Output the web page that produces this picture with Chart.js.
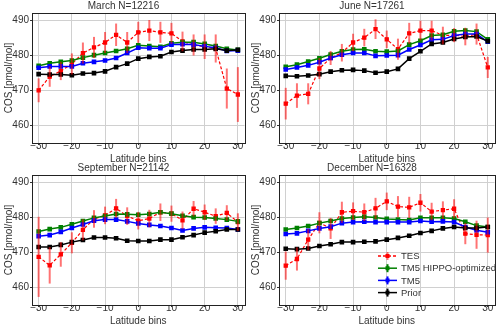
<!DOCTYPE html>
<html>
<head>
<meta charset="utf-8">
<script src="https://cdn.jsdelivr.net/npm/chart.js@4.4.0/dist/chart.umd.min.js"></script>
<style>
body{margin:0;background:#fff;width:500px;height:329px;position:relative;overflow:hidden}
canvas{position:absolute}
</style>
</head>
<body>
<canvas id="c0" width="250" height="165" style="left:0;top:0"></canvas>
<canvas id="c1" width="253" height="165" style="left:247px;top:0"></canvas>
<canvas id="c2" width="250" height="165" style="left:0;top:162px"></canvas>
<canvas id="c3" width="253" height="165" style="left:247px;top:162px"></canvas>
<script>
// latitude bin centres and axis ticks
var latBins = [-30, -26.67, -23.33, -20, -16.67, -13.33, -10, -6.67, -3.33, 0, 3.33, 6.67, 10, 13.33, 16.67, 20, 23.33, 26.67, 30];
var xTicks = [-30, -20, -10, 0, 10, 20, 30];
var yTicks = [460, 470, 480, 490];
var seriesNames = ["TES", "TM5 HIPPO-optimized", "TM5", "Prior"];

// March
var marTes    = [470.0, 473.9, 475.5, 477.5, 480.6, 482.2, 483.6, 485.8, 483.6, 486.5, 487.0, 486.5, 486.2, 483.9, 482.9, 482.4, 481.9, 470.5, 468.8];
var marTesErr = [3.4, 2.9, 2.6, 3.0, 3.0, 3.0, 3.0, 3.2, 3.0, 3.0, 3.0, 3.0, 3.0, 2.8, 3.0, 3.5, 4.0, 5.7, 7.8];
var marHippo  = [477.0, 477.7, 478.1, 478.5, 479.3, 480.0, 480.6, 481.2, 481.8, 482.8, 482.6, 482.4, 483.4, 483.7, 483.7, 483.2, 482.6, 481.8, 481.5];
var marTm5    = [476.4, 476.8, 476.8, 476.8, 477.7, 478.1, 478.5, 479.2, 480.6, 482.1, 482.0, 482.0, 483.0, 483.1, 483.0, 482.5, 482.1, 481.2, 481.3];
var marPrior  = [474.6, 474.5, 474.5, 474.3, 474.8, 474.9, 475.4, 476.6, 477.6, 479.0, 479.5, 479.7, 480.9, 481.3, 481.6, 481.6, 481.8, 481.3, 481.5];

// June
var junTes    = [466.2, 468.5, 469.0, 476.2, 479.2, 480.7, 483.6, 485.0, 487.4, 484.5, 481.7, 486.2, 487.0, 487.0, 485.6, 485.7, 485.3, 486.0, 476.5];
var junTesErr = [4.5, 3.5, 3.0, 3.0, 2.0, 2.5, 2.5, 2.5, 2.8, 2.5, 3.0, 3.0, 2.8, 2.8, 2.5, 2.0, 2.5, 3.0, 3.0];
var junHippo  = [476.7, 477.3, 478.2, 479.1, 480.2, 481.1, 481.6, 481.7, 481.1, 481.0, 481.2, 483.0, 484.1, 485.6, 485.8, 486.8, 487.0, 486.7, 484.5];
var junTm5    = [475.9, 476.5, 477.1, 478.0, 479.2, 480.1, 480.6, 480.6, 479.8, 479.9, 480.0, 481.6, 482.9, 484.4, 484.5, 485.6, 486.0, 486.0, 483.8];
var junPrior  = [474.1, 474.0, 474.2, 474.6, 475.3, 475.7, 475.8, 475.6, 475.0, 475.3, 476.1, 479.0, 481.1, 483.2, 483.6, 484.6, 485.2, 485.3, 484.0];

// September
var sepTes    = [468.7, 466.3, 469.4, 472.7, 476.4, 479.5, 480.5, 482.5, 480.3, 479.0, 479.6, 481.4, 481.0, 479.1, 482.4, 481.4, 480.3, 481.2, 478.6];
var sepTesErr = [11.4, 5.2, 3.5, 3.0, 3.0, 2.5, 2.5, 2.7, 2.5, 2.5, 2.5, 2.5, 2.3, 2.5, 2.2, 2.2, 2.2, 2.2, 2.5];
var sepHippo  = [475.9, 476.6, 477.1, 478.0, 478.9, 479.8, 480.3, 480.9, 480.8, 480.7, 480.9, 481.4, 481.0, 480.4, 480.0, 479.9, 479.6, 479.3, 478.8];
var sepTm5    = [474.6, 474.9, 475.8, 476.9, 477.9, 479.0, 479.3, 479.3, 478.8, 478.2, 477.8, 477.5, 476.9, 476.2, 476.8, 477.1, 477.0, 476.9, 476.5];
var sepPrior  = [471.5, 471.5, 472.1, 472.9, 473.5, 474.2, 474.2, 474.0, 473.3, 473.2, 473.2, 473.6, 473.6, 474.3, 474.9, 475.6, 476.0, 476.5, 476.5];

// December
var decTes    = [466.2, 468.1, 473.6, 478.4, 476.8, 481.4, 481.7, 481.4, 482.5, 484.5, 483.0, 482.8, 484.1, 481.6, 482.0, 482.4, 475.3, 475.0, 474.9];
var decTesErr = [4.0, 3.3, 3.0, 3.0, 3.0, 3.0, 2.5, 2.5, 3.0, 2.5, 3.0, 3.0, 2.5, 2.5, 2.5, 2.7, 3.0, 4.0, 5.0];
var decHippo  = [476.5, 476.9, 477.5, 478.3, 478.9, 479.6, 479.9, 480.1, 479.9, 479.5, 479.3, 479.2, 479.8, 479.8, 479.8, 479.6, 478.7, 477.6, 477.2];
var decTm5    = [475.2, 475.4, 476.1, 476.8, 477.3, 478.3, 478.6, 478.7, 478.6, 478.6, 478.6, 478.6, 478.9, 478.7, 478.8, 478.6, 477.2, 476.3, 475.7];
var decPrior  = [471.0, 470.9, 471.1, 471.8, 472.3, 472.9, 472.9, 473.0, 473.1, 473.6, 474.1, 474.7, 475.5, 476.1, 476.8, 477.2, 476.9, 476.9, 477.2];

var FONT = "'Liberation Sans', Arial, sans-serif";
var TXT = "#333";

function pts(vals) {
	var out = [];
	for (var i in latBins) out.push({x: latBins[i], y: vals[i]});
	return out;
}

// vertical error bars for datasets that carry an errs array
var errorBars = {
	id: "errorBars",
	afterDatasetsDraw: function(chart) {
		var ctx = chart.ctx, xs = chart.scales.x, ys = chart.scales.y;
		chart.data.datasets.forEach(function(ds) {
			if (!ds.errs) return;
			ctx.save();
			ctx.strokeStyle = ds.errColor;
			ctx.lineWidth = 2;
			ds.data.forEach(function(p, i) {
				var x = xs.getPixelForValue(p.x);
				ctx.beginPath();
				ctx.moveTo(x, ys.getPixelForValue(p.y - ds.errs[i]));
				ctx.lineTo(x, ys.getPixelForValue(p.y + ds.errs[i]));
				ctx.stroke();
			});
			ctx.restore();
		});
	}
};

// box round the plot area
var frame = {
	id: "frame",
	afterDraw: function(chart) {
		var a = chart.chartArea, ctx = chart.ctx;
		ctx.save();
		ctx.strokeStyle = "#222";
		ctx.lineWidth = 1;
		ctx.strokeRect(Math.round(a.left) + 0.5, Math.round(a.top) + 0.5, Math.round(a.right - a.left), Math.round(a.bottom - a.top));
		ctx.restore();
	}
};

// legend drawn inside the December panel
var innerLegend = {
	id: "innerLegend",
	afterDraw: function(chart) {
		if (!chart.options.plugins.innerLegend.show) return;
		var ctx = chart.ctx;
		var x0 = 131, x1 = 150, y = 94, gap = 12.2;
		ctx.save();
		ctx.font = "9.5px " + FONT;
		ctx.textBaseline = "middle";
		chart.data.datasets.slice().reverse().forEach(function(ds) {
			ctx.strokeStyle = ds.borderColor;
			ctx.lineWidth = 1.5;
			ctx.setLineDash(ds.borderDash || []);
			ctx.beginPath(); ctx.moveTo(x0, y); ctx.lineTo(x1, y); ctx.stroke();
			ctx.setLineDash([]);
			ctx.strokeStyle = ds.errColor || ds.borderColor;
			ctx.lineWidth = 2;
			ctx.beginPath(); ctx.moveTo((x0 + x1) / 2, y - 4); ctx.lineTo((x0 + x1) / 2, y + 4); ctx.stroke();
			ctx.fillStyle = ds.borderColor;
			ctx.fillRect((x0 + x1) / 2 - 2, y - 2, 4, 4);
			ctx.fillStyle = TXT;
			ctx.fillText(ds.label, x1 + 4, y + 0.5);
			y += gap;
		});
		ctx.restore();
	}
};

function makePanel(id, title, tes, tesErr, hippo, tm5, prior, padRight, showLegend) {
	var ctx = document.getElementById(id);
	return new Chart(ctx, {
		type: "line",
		data: {
			datasets: [
				{label: seriesNames[3], data: pts(prior), borderColor: "#000", backgroundColor: "#000", borderWidth: 1.5, pointStyle: "rect", pointRadius: 2.2},
				{label: seriesNames[2], data: pts(tm5), borderColor: "#0000ff", backgroundColor: "#0000ff", borderWidth: 1.5, pointStyle: "rect", pointRadius: 2.2},
				{label: seriesNames[1], data: pts(hippo), borderColor: "#008000", backgroundColor: "#008000", borderWidth: 1.5, pointStyle: "rect", pointRadius: 2.2},
				{label: seriesNames[0], data: pts(tes), errs: tesErr, errColor: "rgba(255,0,0,0.55)", borderColor: "#ff0000", backgroundColor: "#ff0000", borderWidth: 1.2, borderDash: [3, 2], pointStyle: "rect", pointRadius: 2.2}
			]
		},
		options: {
			responsive: false,
			animation: false,
			layout: {padding: {left: 0, right: padRight, top: 0, bottom: 0}},
			plugins: {
				legend: {display: false},
				tooltip: {enabled: false},
				title: {display: true, text: title, color: TXT, font: {family: FONT, size: 10, weight: "normal"}, padding: {top: 0, bottom: 1}},
				innerLegend: {show: showLegend}
			},
			scales: {
				x: {
					type: "linear", min: -32, max: 32,
					afterBuildTicks: function(s) { s.ticks = xTicks.map(function(v) { return {value: v}; }); },
					afterFit: function(s) { s.height = 22; },
					grid: {color: "#d0d0d0", borderDash: [1, 2], tickColor: "#333", tickLength: 2, tickBorderDash: []},
					border: {display: false},
					ticks: {color: TXT, font: {family: FONT, size: 10, lineHeight: 1}, padding: -4, maxRotation: 0,
						callback: function(v) { return String(v).replace("-", "\u2212"); }},
					title: {display: true, text: "Latitude bins", color: TXT, font: {family: FONT, size: 10}, padding: {top: 0, bottom: 0}}
				},
				y: {
					min: 455, max: 492,
					afterBuildTicks: function(s) { s.ticks = yTicks.map(function(v) { return {value: v}; }); },
					afterFit: function(s) { s.width = 32; },
					grid: {color: "#d0d0d0", borderDash: [1, 2], tickColor: "#333", tickLength: 2, tickBorderDash: []},
					border: {display: false},
					ticks: {color: TXT, font: {family: FONT, size: 10}, padding: 1},
					title: {display: true, text: "COS [pmol/mol]", color: TXT, font: {family: FONT, size: 10}, padding: {top: 3, bottom: 0}}
				}
			}
		},
		plugins: [errorBars, frame, innerLegend]
	});
}

makePanel("c0", "March N=12216", marTes, marTesErr, marHippo, marTm5, marPrior, 3, false);
makePanel("c1", "June N=17261", junTes, junTesErr, junHippo, junTm5, junPrior, 3, false);
makePanel("c2", "September N=21142", sepTes, sepTesErr, sepHippo, sepTm5, sepPrior, 3, false);
makePanel("c3", "December N=16328", decTes, decTesErr, decHippo, decTm5, decPrior, 3, true);
</script>
</body>
</html>
